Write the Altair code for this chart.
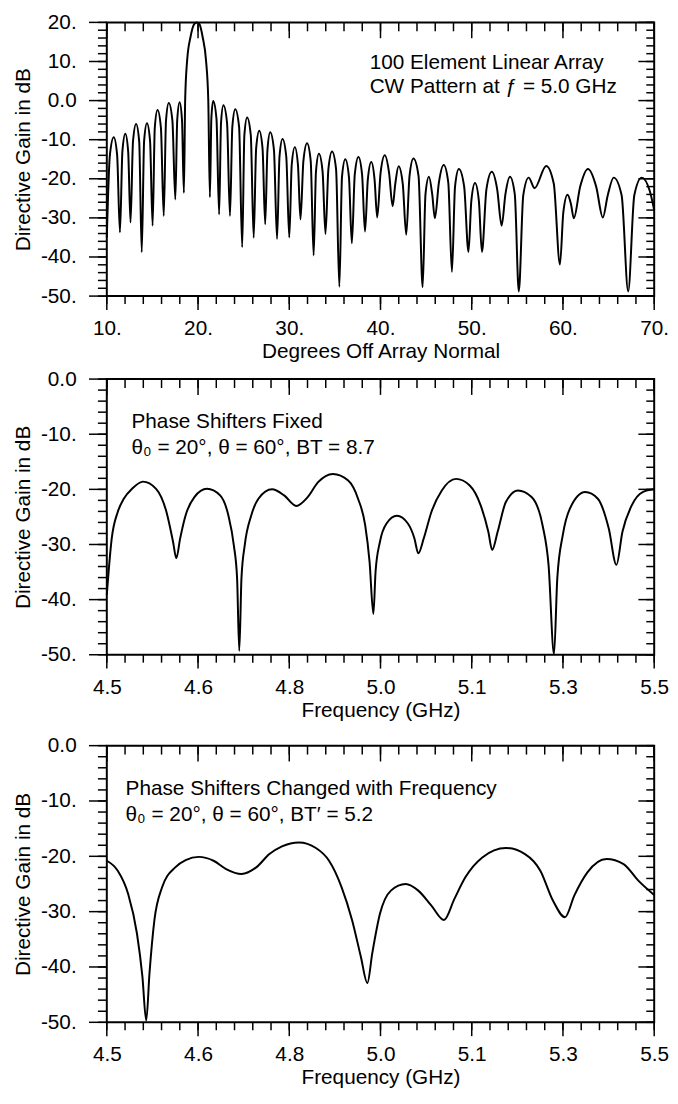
import altair as alt
import pandas as pd

FONT = "Liberation Sans"

# ---------------- Panel 1: CW pattern, 100 element linear array ----------------
deg = [
    10.00, 10.34, 10.76, 11.13, 11.44, 11.71, 12.03, 12.34, 12.60, 12.87,
    13.21, 13.55, 13.83, 14.09, 14.40, 14.74, 15.02, 15.26, 15.56, 15.93,
    16.24, 16.49, 16.79, 17.19, 17.51, 17.72, 17.98, 18.24, 18.45, 18.59,
    18.81, 19.17, 19.60, 19.87, 20.14, 20.51, 20.87, 21.12, 21.30, 21.46,
    21.66, 22.02, 22.31, 22.52, 22.78, 23.18, 23.50, 23.76, 24.08, 24.50,
    24.84, 25.08, 25.38, 25.78, 26.10, 26.37, 26.71, 27.07, 27.36, 27.61,
    27.91, 28.32, 28.66, 28.93, 29.26, 29.67, 30.00, 30.27, 30.61, 30.95,
    31.23, 31.55, 31.95, 32.35, 32.67, 32.93, 33.25, 33.65, 33.97, 34.29,
    34.69, 35.13, 35.49, 35.78, 36.14, 36.54, 36.86, 37.18, 37.58, 37.98,
    38.30, 38.61, 38.99, 39.35, 39.64, 40.01, 40.47, 40.94, 41.33, 41.62,
    41.98, 42.44, 42.82, 43.18, 43.61, 44.17, 44.62, 44.93, 45.31, 45.67,
    45.96, 46.40, 46.93, 47.43, 47.83, 48.17, 48.59, 49.17, 49.64, 49.96,
    50.36, 50.78, 51.12, 51.61, 52.20, 52.79, 53.28, 53.69, 54.19, 54.72,
    55.16, 55.65, 56.24, 56.89, 58.16, 58.99, 59.67, 60.04, 60.50, 60.88,
    61.19, 61.89, 62.74, 63.64, 64.37, 64.91, 65.56, 66.43, 67.15, 67.82,
    68.63, 69.50, 70.00,
]
gain_cw = [
    -35.0, -13.9, -9.4, -13.9, -33.7, -13.0, -8.5, -13.0, -31.2, -10.5,
    -6.0, -10.5, -38.8, -10.3, -5.8, -10.3, -32.0, -6.9, -2.4, -6.9,
    -29.5, -5.1, -0.6, -5.1, -25.3, -4.9, -0.4, -4.9, -23.6, 0.3,
    10.4, 16.2, 19.6, 20.0, 19.6, 16.2, 10.4, 0.3, -24.7, -4.6,
    -0.1, -4.6, -29.1, -5.7, -1.2, -5.7, -29.5, -6.7, -2.2, -6.7,
    -37.5, -8.8, -4.3, -8.8, -35.1, -12.2, -7.7, -12.2, -31.6, -12.6,
    -8.1, -12.6, -35.4, -14.3, -9.8, -14.3, -35.0, -16.4, -11.9, -16.4,
    -30.4, -15.4, -10.9, -15.4, -39.6, -18.1, -13.6, -18.1, -34.1, -17.5,
    -13.0, -17.5, -47.6, -19.5, -15.0, -19.5, -36.5, -18.9, -14.4, -18.9,
    -33.5, -20.2, -15.7, -20.2, -29.9, -18.5, -14.0, -18.5, -27.0, -21.3,
    -16.8, -21.3, -34.3, -19.3, -14.8, -19.3, -47.7, -24.0, -19.5, -24.0,
    -30.1, -21.0, -16.5, -21.0, -43.8, -22.0, -17.5, -22.0, -38.7, -25.6,
    -21.1, -25.6, -38.7, -22.7, -18.2, -22.7, -32.0, -24.0, -19.5, -24.0,
    -48.8, -24.2, -19.7, -22.4, -16.7, -21.2, -41.9, -28.6, -24.1, -26.5,
    -30.1, -22.0, -17.5, -22.0, -29.9, -24.2, -19.7, -24.2, -48.8, -24.2,
    -19.7, -23.0, -28.0,
]

# ---------------- Panel 2: phase shifters fixed ----------------
freq_fixed = [
    4.500, 4.509, 4.520, 4.531, 4.547, 4.566, 4.590, 4.609, 4.621, 4.627,
    4.634, 4.644, 4.660, 4.683, 4.707, 4.722, 4.732, 4.738, 4.742, 4.746,
    4.752, 4.764, 4.777, 4.802, 4.824, 4.846, 4.867, 4.886, 4.913, 4.941,
    4.959, 4.972, 4.980, 4.987, 4.991, 4.999, 5.011, 5.030, 5.050, 5.062,
    5.069, 5.079, 5.093, 5.112, 5.138, 5.163, 5.183, 5.197, 5.204, 5.214,
    5.229, 5.251, 5.276, 5.296, 5.307, 5.317, 5.323, 5.333, 5.346, 5.374,
    5.397, 5.417, 5.431, 5.442, 5.459, 5.479, 5.500,
]
gain_fixed = [
    -39.1, -28.9, -24.1, -21.7, -19.8, -18.6, -19.9, -24.1, -29.5, -32.5,
    -28.9, -24.7, -21.4, -19.9, -21.1, -24.7, -30.1, -36.1, -49.3, -36.1,
    -30.1, -24.7, -21.7, -20.0, -21.1, -23.0, -21.4, -18.7, -17.2, -18.4,
    -21.7, -26.5, -33.1, -42.6, -34.9, -29.5, -26.2, -24.8, -26.2, -28.9,
    -31.6, -28.9, -24.1, -20.2, -18.1, -19.3, -22.9, -27.7, -31.0, -27.7,
    -22.3, -20.2, -21.4, -26.5, -33.7, -49.9, -36.1, -28.3, -23.5, -20.5,
    -21.7, -27.1, -33.7, -27.7, -22.9, -20.5, -20.0,
]

# ---------------- Panel 3: phase shifters changed with frequency ----------------
freq_changed = [
    4.500, 4.520, 4.539, 4.555, 4.565, 4.572, 4.578, 4.587, 4.601, 4.625,
    4.644, 4.668, 4.695, 4.718, 4.746, 4.773, 4.797, 4.820, 4.851, 4.882,
    4.906, 4.929, 4.948, 4.964, 4.976, 4.985, 4.999, 5.019, 5.046, 5.069,
    5.093, 5.116, 5.135, 5.155, 5.186, 5.229, 5.264, 5.292, 5.315, 5.337,
    5.354, 5.378, 5.413, 5.444, 5.471, 5.500,
]
gain_changed = [
    -20.8, -22.6, -26.8, -33.9, -41.7, -49.7, -41.1, -31.5, -25.6, -22.0,
    -20.7, -20.1, -20.8, -22.3, -23.2, -22.0, -19.6, -18.2, -17.5, -18.5,
    -20.8, -25.6, -31.5, -38.1, -42.9, -37.5, -30.4, -26.2, -25.0, -26.2,
    -28.9, -31.5, -27.7, -23.8, -20.2, -18.5, -19.6, -22.6, -28.0, -31.0,
    -27.1, -22.9, -20.5, -21.4, -24.4, -27.0,
]

# ---------------- Axis ticks and labels ----------------
deg_major = [10, 20, 30, 40, 50, 60, 70]
deg_labels = ["10.", "20.", "30.", "40.", "50.", "60.", "70."]
deg_minor = list(range(10, 71, 2))
gain1_major = [20, 10, 0, -10, -20, -30, -40, -50]
gain1_labels = ["20.", "10.", "0.0", "-10.", "-20.", "-30.", "-40.", "-50."]
gain1_minor = list(range(-50, 21, 2))
freq_major = [4.5 + k / 6 for k in range(7)]
freq_labels = ["4.5", "4.6", "4.8", "5.0", "5.1", "5.3", "5.5"]
freq_minor = [4.5 + k / 30 for k in range(31)]
gain2_major = [0, -10, -20, -30, -40, -50]
gain2_labels = ["0.0", "-10.", "-20.", "-30.", "-40.", "-50."]
gain2_minor = list(range(-50, 1, 2))

ann1 = ["100 Element Linear Array", "CW Pattern at \u0192 = 5.0 GHz"]
ann2 = ["Phase Shifters Fixed", "\u03b8\u2080 = 20\u00b0, \u03b8 = 60\u00b0, BT = 8.7"]
ann3 = ["Phase Shifters Changed with Frequency",
        "\u03b8\u2080 = 20\u00b0, \u03b8 = 60\u00b0, BT\u2032 = 5.2"]


def label_expr(values, labels):
    expr = "''"
    for v, lab in reversed(list(zip(values, labels))):
        expr = f"abs(datum.value - ({v:.6f})) < 1e-4 ? '{lab}' : {expr}"
    return expr


LAB = dict(labelFont=FONT, labelFontSize=21, labelColor="black",
           titleFont=FONT, titleFontSize=21, titleFontWeight="normal",
           titleColor="black", domain=False, grid=False, ticks=False)

W = 554


def tick_layer(values, scale, channel, p1, p2):
    df = pd.DataFrame({"v": values})
    rule = alt.Chart(df).mark_rule(color="black", strokeWidth=1.5)
    if channel == "x":
        return rule.encode(x=alt.X("v:Q", scale=scale, axis=None),
                           y=alt.value(p1), y2=alt.value(p2))
    return rule.encode(y=alt.Y("v:Q", scale=scale, axis=None),
                       x=alt.value(p1), x2=alt.value(p2))


def panel(xs, ys, xdom, ydom, xmaj, xlab, xmin, ymaj, ylab, ymin, xtitle,
          height, ann, ann_x, ann_y):
    df = pd.DataFrame({"x": xs, "y": ys})
    xsc = alt.Scale(domain=xdom, nice=False, zero=False)
    ysc = alt.Scale(domain=ydom, nice=False, zero=False)

    main = alt.Chart(df).mark_line(color="black", strokeWidth=2, interpolate="monotone").encode(
        x=alt.X("x:Q", scale=xsc, axis=alt.Axis(
            orient="bottom", values=xmaj, labelExpr=label_expr(xmaj, xlab),
            labelPadding=22, title=xtitle, titlePadding=2,
            labelFlush=False, labelOverlap=False, **LAB)),
        y=alt.Y("y:Q", scale=ysc, axis=alt.Axis(
            orient="left", values=ymaj, labelExpr=label_expr(ymaj, ylab),
            labelPadding=31, title="Directive Gain in dB", titlePadding=7,
            labelFlush=False, labelOverlap=False, **LAB)),
    )
    ticks = [
        tick_layer(xmin, xsc, "x", height, height + 8),      # bottom minor
        tick_layer(xmaj, xsc, "x", height, height + 14),     # bottom major
        tick_layer(xmin, xsc, "x", 0, 9),                    # top minor (inward)
        tick_layer(xmaj, xsc, "x", 0, 16),                   # top major (inward)
        tick_layer(ymin, ysc, "y", -9, 0),                   # left minor
        tick_layer(ymaj, ysc, "y", -18, 0),                  # left major
        tick_layer(ymin, ysc, "y", W - 8, W),                # right minor (inward)
        tick_layer(ymaj, ysc, "y", W - 16, W),               # right major (inward)
    ]
    texts = [
        alt.Chart(pd.DataFrame({"t": [line]})).mark_text(
            align="left", baseline="alphabetic", font=FONT, fontSize=21, color="black"
        ).encode(x=alt.value(ann_x), y=alt.value(yy), text="t:N")
        for line, yy in zip(ann, ann_y)
    ]
    return alt.layer(main, *ticks, *texts).resolve_axis(
        x="independent", y="independent"
    ).properties(width=W, height=height)


p1 = panel(deg, gain_cw, [10, 70], [-50, 20], deg_major, deg_labels, deg_minor,
           gain1_major, gain1_labels, gain1_minor, "Degrees Off Array Normal",
           277, ann1, 266, [47, 71])
p2 = panel(freq_fixed, gain_fixed, [4.5, 5.5], [-50, 0], freq_major, freq_labels,
           freq_minor, gain2_major, gain2_labels, gain2_minor, "Frequency (GHz)",
           279, ann2, 25, [50, 76])
p3 = panel(freq_changed, gain_changed, [4.5, 5.5], [-50, 0], freq_major, freq_labels,
           freq_minor, gain2_major, gain2_labels, gain2_minor, "Frequency (GHz)",
           280, ann3, 19, [50, 76])

upper = alt.vconcat(p1, p2, spacing=5)
chart = alt.vconcat(upper, p3, spacing=13).properties(
    padding={"left": 3, "top": -4, "right": 0, "bottom": 0},
    background="white",
).configure_view(
    stroke="black", strokeWidth=2
)

chart.save("out.html", embed_options={"renderer": "svg", "actions": False})
